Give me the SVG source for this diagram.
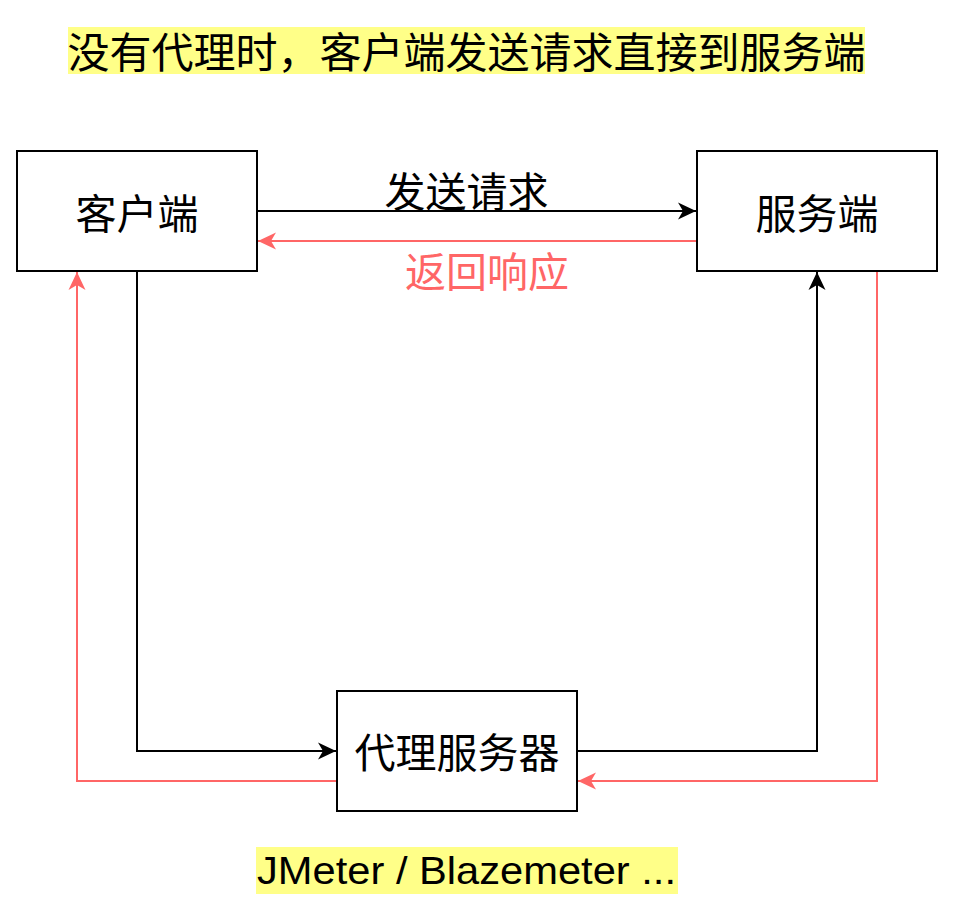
<svg xmlns="http://www.w3.org/2000/svg" width="954" height="920" viewBox="0 0 954 920">
  <style>
    .box { fill: #ffffff; stroke: #000000; stroke-width: 2; }
    .cjk { font-family: "Noto Sans CJK SC", "Noto Sans", sans-serif; text-anchor: middle; dominant-baseline: central; }
    .node { font-size: 41px; fill: #000000; }
    .black { fill: none; stroke: #000000; stroke-width: 2; }
    .red { fill: none; stroke: #FF6666; stroke-width: 2; }
    .hl { fill: #FFFF88; }
  </style>
  <defs>
    <marker id="arrBlack" viewBox="-18 -10 20 20" markerWidth="20" markerHeight="20" refX="0" refY="0" orient="auto" markerUnits="userSpaceOnUse">
      <path d="M0,0 L-18,-8.5 L-13,0 L-18,8.5 Z" fill="#000000"/>
    </marker>
    <marker id="arrRed" viewBox="-18 -10 20 20" markerWidth="20" markerHeight="20" refX="0" refY="0" orient="auto" markerUnits="userSpaceOnUse">
      <path d="M0,0 L-18,-8.5 L-13,0 L-18,8.5 Z" fill="#FF6666"/>
    </marker>
  </defs>

  <rect width="954" height="920" fill="#ffffff"/>

  <g id="title">
    <rect class="hl" x="68" y="27" width="797" height="47"/>
    <text class="cjk" x="466.5" y="49" font-size="42" fill="#000000">没有代理时，客户端发送请求直接到服务端</text>
  </g>

  <g id="connectors">
    <path class="black" d="M257,211 H696" marker-end="url(#arrBlack)"/>
    <path class="red" d="M697,241 H258" marker-end="url(#arrRed)"/>
    <path class="black" d="M137,271 V751 H336" marker-end="url(#arrBlack)"/>
    <path class="red" d="M337,781 H77 V272" marker-end="url(#arrRed)"/>
    <path class="black" d="M577,751 H817 V272" marker-end="url(#arrBlack)"/>
    <path class="red" d="M877,271 V781 H578" marker-end="url(#arrRed)"/>
    <text class="cjk" x="466.5" y="188.5" font-size="41" fill="#000000">发送请求</text>
    <text class="cjk" x="487" y="268.5" font-size="41" fill="#FF6666">返回响应</text>
  </g>

  <g id="client">
    <rect class="box" x="17" y="151" width="240" height="120"/>
    <text class="cjk node" x="137" y="210.5">客户端</text>
  </g>

  <g id="server">
    <rect class="box" x="697" y="151" width="240" height="120"/>
    <text class="cjk node" x="817" y="210.5">服务端</text>
  </g>

  <g id="proxy">
    <rect class="box" x="337" y="691" width="240" height="120"/>
    <text class="cjk node" x="457" y="750">代理服务器</text>
  </g>

  <g id="tools">
    <rect class="hl" x="256" y="847" width="422" height="47"/>
    <text x="257" y="884" font-family="'Liberation Sans', Arial, sans-serif" font-size="39" fill="#000000" textLength="419" lengthAdjust="spacingAndGlyphs">JMeter / Blazemeter ...</text>
  </g>
</svg>
